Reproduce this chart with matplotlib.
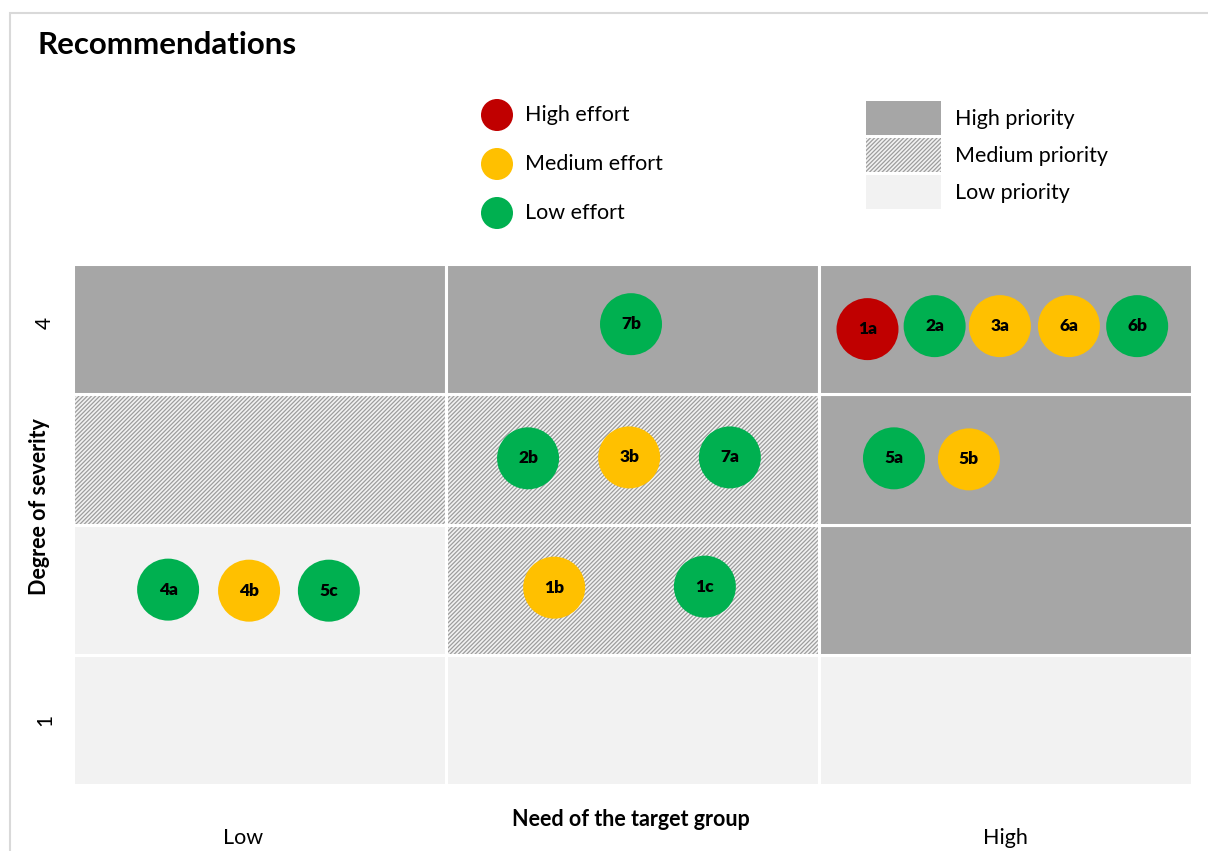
import matplotlib.pyplot as plt
from matplotlib.patches import Rectangle, Circle
import numpy as np

plt.rcParams['font.family'] = ['Lato', 'DejaVu Sans']
plt.rcParams['hatch.linewidth'] = 0.9

# recommendation bubbles (x = need column 0..3, y = severity row 0..4)
labels = ["1a", "2a", "3a", "6a", "6b", "7b",
          "2b", "3b", "7a", "5a", "5b",
          "4a", "4b", "5c", "1b", "1c"]
x_need = [2.13, 2.31, 2.485, 2.67, 2.853, 1.496,
          1.22, 1.491, 1.761, 2.201, 2.402,
          0.255, 0.472, 0.686, 1.29, 1.694]
y_sev = [3.50, 3.523, 3.523, 3.523, 3.523, 3.538,
         2.508, 2.515, 2.515, 2.508, 2.50,
         1.50, 1.492, 1.492, 1.515, 1.523]
effort = ["high", "low", "medium", "medium", "low", "low",
          "low", "medium", "low", "low", "medium",
          "low", "medium", "low", "medium", "low"]

# priority of each cell, rows bottom (severity 1) to top (severity 4)
priority = [["low", "low", "low"],
            ["low", "medium", "high"],
            ["medium", "medium", "high"],
            ["high", "high", "high"]]

effort_colors = {"high": "#C00000", "medium": "#FFC000", "low": "#00B050"}
effort_names = ["High effort", "Medium effort", "Low effort"]
priority_names = ["High priority", "Medium priority", "Low priority"]

GRAY = "#A6A6A6"
LIGHT = "#F2F2F2"
HATCH = "#9C9C9C"


def cell_style(p):
    if p == "high":
        return dict(facecolor=GRAY, hatch=None)
    if p == "medium":
        return dict(facecolor=LIGHT, hatch="////////")
    return dict(facecolor=LIGHT, hatch=None)


fig = plt.figure(figsize=(12.08, 8.51), dpi=100)

# overlay in pixel coordinates for frame and legends
lay = fig.add_axes([0, 0, 1, 1])
lay.set_xlim(0, 1208)
lay.set_ylim(851, 0)
lay.axis("off")
lay.add_patch(Rectangle((10, 13), 1300, 900, facecolor="white",
                        edgecolor="#D9D9D9", linewidth=1.5))

lay.text(37, 45, "Recommendations", fontsize=22.5, fontweight="bold",
         va="center", ha="left")

# effort legend
for i, (name, key) in enumerate(zip(effort_names, ["high", "medium", "low"])):
    yc = 115 + i * 49
    lay.add_patch(Circle((497, yc), 16, facecolor=effort_colors[key], edgecolor="none"))
    lay.text(525, yc, name, fontsize=15.5, va="center", ha="left")

# priority legend
for i, (name, key) in enumerate(zip(priority_names, ["high", "medium", "low"])):
    y0 = 101 + i * 37
    st = cell_style(key)
    r = Rectangle((866, y0), 75, 34, facecolor=st["facecolor"], hatch=st["hatch"],
                  edgecolor=HATCH if st["hatch"] else "none", linewidth=0)
    lay.add_patch(r)
    lay.text(955, y0 + 18, name, fontsize=15.5, va="center", ha="left")

# matrix
ax = fig.add_axes([73 / 1208, 66 / 851, 1119 / 1208, 521 / 851])
ax.set_xlim(0, 3)
ax.set_ylim(0, 4)
ax.axis("off")

for r, row in enumerate(priority):
    for c, p in enumerate(row):
        st = cell_style(p)
        ax.add_patch(Rectangle((c, r), 1, 1, facecolor=st["facecolor"], edgecolor="none",
                               linewidth=0))
        if st["hatch"]:
            ax.add_patch(Rectangle((c, r), 1, 1, facecolor="none", hatch=st["hatch"],
                                   edgecolor=HATCH, linewidth=0))
        ax.add_patch(Rectangle((c, r), 1, 1, facecolor="none", edgecolor="white",
                               linewidth=2.2))

ax.scatter(x_need, y_sev, s=(62 * 0.72) ** 2,
           c=[effort_colors[e] for e in effort], edgecolors="none", zorder=3)
for lab, xv, yv in zip(labels, x_need, y_sev):
    ax.text(xv, yv, lab, fontsize=12.5, fontweight="heavy", ha="center", va="center",
            zorder=4)

# axis texts
lay.text(45, 323, "4", fontsize=15, rotation=90, ha="center", va="center")
lay.text(45, 720, "1", fontsize=15, rotation=90, ha="center", va="center")
lay.text(40, 507, "Degree of severity", fontsize=15.5, fontweight="bold", rotation=90,
         ha="center", va="center")
lay.text(243, 838, "Low", fontsize=15.5, ha="center", va="center")
lay.text(1005, 838, "High", fontsize=15.5, ha="center", va="center")
lay.text(631, 819, "Need of the target group", fontsize=15.5, fontweight="bold",
         ha="center", va="center")

fig.savefig("out.png", dpi=100)
